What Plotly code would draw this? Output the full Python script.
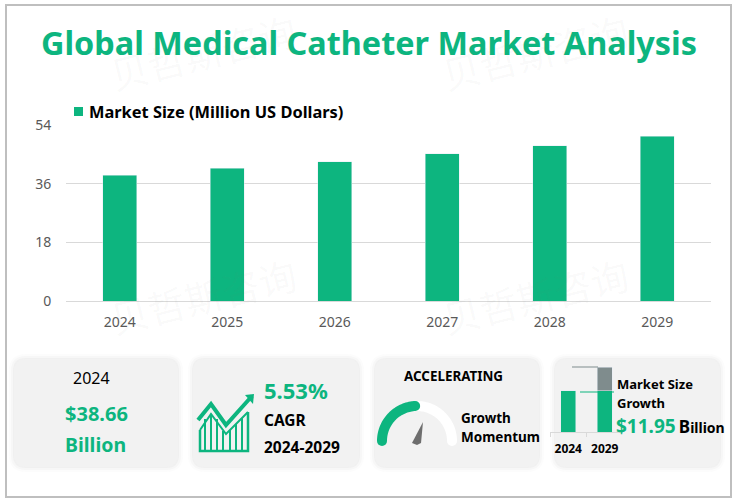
import numpy as np
import plotly.graph_objects as go

W, H = 736, 503
GREEN = "#0DB57F"
GREY = "#7F8C8D"
FONT = "Noto Sans"

# donnees du graphique principal
annees = ["2024", "2025", "2026", "2027", "2028", "2029"]
marche = [38.66, 40.8, 42.7, 45.2, 47.7, 50.61]
ticks_y = [0, 18, 36, 54]

# petit graphique en bas a droite
annees_mini = ["2024", "2029"]
base_mini = [38.66, 38.66]
hausse_mini = [0, 11.95]


def px_x(x):
    return x / W


def px_y(y):
    return 1 - y / H


def texte(x, y, s, size, color="black", bold=True, anchor="left"):
    if bold:
        s = "<b>" + s + "</b>"
    fig.add_annotation(x=px_x(x), y=px_y(y), xref="paper", yref="paper", text=s, showarrow=False,
                       xanchor=anchor, yanchor="middle", font=dict(family=FONT, size=size, color=color))


def chemin_arrondi(x0, y0, x1, y1, r):
    rx, ry = r / W, r / H
    a, b, c, d = px_x(x0), px_x(x1), px_y(y0), px_y(y1)
    return (f"M{a + rx},{c} L{b - rx},{c} Q{b},{c} {b},{c - ry} L{b},{d + ry} Q{b},{d} {b - rx},{d} "
            f"L{a + rx},{d} Q{a},{d} {a},{d + ry} L{a},{c - ry} Q{a},{c} {a + rx},{c} Z")


def carte(x0, y0, x1, y1, r=12):
    # ombre douce puis la carte
    for d, op in [(5, 0.05), (3, 0.07), (1, 0.1)]:
        fig.add_shape(type="path", path=chemin_arrondi(x0 - d, y0 - d, x1 + d, y1 + d, r + d), xref="paper", yref="paper",
                      fillcolor="#BBBBBB", opacity=op, line_width=0, layer="below")
    fig.add_shape(type="path", path=chemin_arrondi(x0, y0, x1, y1, r), xref="paper", yref="paper",
                  fillcolor="#F2F2F2", line_width=0, layer="below")


def polyligne(points, color=GREEN, width=3, ferme=False, fill=None):
    p = "M" + " L".join(f"{px_x(x)},{px_y(y)}" for x, y in points)
    if ferme:
        p += " Z"
    fig.add_shape(type="path", path=p, xref="paper", yref="paper", line=dict(color=color, width=width),
                  fillcolor=fill)


def arc(cx, cy, r, a0, a1, color):
    # arc de la jauge avec bouts ronds
    t = np.radians(np.linspace(a0, a1, 40))
    epais = 5
    ext = [(cx + (r + epais) * np.cos(v), cy - (r + epais) * np.sin(v)) for v in t]
    inter = [(cx + (r - epais) * np.cos(v), cy - (r - epais) * np.sin(v)) for v in t[::-1]]
    polyligne(ext + inter, color=color, width=0, ferme=True, fill=color)
    for v in (t[0], t[-1]):
        x, y = cx + r * np.cos(v), cy - r * np.sin(v)
        fig.add_shape(type="circle", xref="paper", yref="paper", x0=px_x(x - epais), x1=px_x(x + epais),
                      y0=px_y(y + epais), y1=px_y(y - epais), fillcolor=color, line_width=0)


fig = go.Figure()

fig.add_trace(go.Bar(x=annees, y=marche, name="Market Size (Million US Dollars)", marker_color=GREEN, width=0.315))

fig.add_trace(go.Bar(x=annees_mini, y=base_mini, marker_color=GREEN, width=0.41, xaxis="x2", yaxis="y2"))
fig.add_trace(go.Bar(x=annees_mini, y=hausse_mini, marker_color=GREY, width=0.41, xaxis="x2", yaxis="y2"))

fig.update_layout(
    width=W, height=H, autosize=False,
    margin=dict(l=0, r=0, t=0, b=0, autoexpand=False),
    paper_bgcolor="white", plot_bgcolor="rgba(0,0,0,0)",
    barmode="stack",
    font=dict(family=FONT, color="#595959"),
    showlegend=False,
    xaxis=dict(domain=[px_x(66), px_x(711)], showgrid=False, showline=True, linecolor="#D9D9D9",
               ticks="outside", ticklen=8, tickcolor="rgba(0,0,0,0)", tickfont=dict(size=14, color="#595959")),
    yaxis=dict(domain=[px_y(301), px_y(125)], range=[0, 54], tickvals=ticks_y, gridcolor="#D9D9D9",
               zeroline=False, tickfont=dict(size=14, color="#595959"), ticks="outside", ticklen=11, tickcolor="rgba(0,0,0,0)"),
    xaxis2=dict(domain=[px_x(550), px_x(623)], anchor="y2", type="category", showgrid=False, showline=True,
                linecolor="#D9D9D9", ticks="outside", tickson="boundaries", ticklen=4, tickcolor="#D9D9D9", tickangle=0,
                ticklabelstandoff=6, tickfont=dict(size=12, color="black", family=FONT, weight="bold")),
    yaxis2=dict(domain=[px_y(432), px_y(367)], anchor="x2", range=[18.2, 50.61], visible=False),
)

# cadre
fig.add_shape(type="rect", xref="paper", yref="paper", x0=px_x(6), x1=px_x(731), y0=px_y(497), y1=px_y(5),
              line=dict(color="#BFBFBF", width=2), fillcolor="rgba(0,0,0,0)", layer="below")

# filigrane
for x, y in [(203, 52), (535, 52), (203, 295), (535, 295)]:
    fig.add_annotation(x=px_x(x), y=px_y(y), xref="paper", yref="paper", text="贝哲斯咨询", showarrow=False, textangle=-14,
                       xanchor="center", yanchor="middle",
                       font=dict(family="Noto Sans CJK SC", size=38, color="rgba(120,120,120,0.04)"))

# titre
texte(369, 42, "Global Medical Catheter Market Analysis", 32.4, color=GREEN, anchor="center")

# legende
fig.add_shape(type="rect", xref="paper", yref="paper", x0=px_x(74), x1=px_x(83), y0=px_y(116), y1=px_y(107),
              fillcolor=GREEN, line_width=0)
texte(87, 111, "Market Size (Million US Dollars)", 16.4)

# cartes du bas
carte(14, 359, 178, 467)
carte(193, 359, 359, 467)
carte(375, 359, 539, 467)
carte(555, 359, 720, 467)

# carte 1
texte(91, 378, "2024", 16, bold=False, anchor="center")
texte(96, 413, "$38.66", 20, color=GREEN, anchor="center")
texte(95, 444, "Billion", 19.5, color=GREEN, anchor="center")

# carte 2 : icone
polyligne([(198, 420), (211, 404), (226, 425), (252, 396)], width=4)
polyligne([(245, 395), (254, 394), (253, 404)], width=0, ferme=True, fill=GREEN)
polyligne([(200, 430), (200, 451), (248, 451), (248, 412)], width=2.5)
for x, h in [(205, 419), (211, 414), (217, 419), (223, 431), (230, 430), (236, 424), (242, 418)]:
    polyligne([(x, h), (x, 451)], width=2)
polyligne([(200, 430), (211, 414), (226, 434), (248, 412)], width=2)
texte(262, 390, "5.53%", 22, color=GREEN)
texte(262, 420, "CAGR", 15.5)
texte(262, 447, "2024-2029", 15.5)

# carte 3 : jauge
texte(453, 376, "ACCELERATING", 13.4, anchor="center")
arc(417, 441, 35, 90, 0, "white")
arc(417, 441, 35, 180, 93, GREEN)
polyligne([(423, 422), (421, 443), (417, 445), (412, 443)], width=0, ferme=True, fill="#6E6E6E")
texte(459, 418, "Growth", 13.5)
texte(459, 437, "Momentum", 13.5)

# carte 4
polyligne([(572, 367), (598, 367)], color=GREY, width=1)
polyligne([(580, 392), (614, 392)], color=GREEN, width=1)
texte(615, 384, "Market Size", 13)
texte(615, 403, "Growth", 13)
fig.add_annotation(x=px_x(614), y=px_y(426), xref="paper", yref="paper", xanchor="left", yanchor="middle", showarrow=False,
                   text=f"<b><span style='color:{GREEN};font-size:19px'>$11.95</span> <span style='font-size:17px'>B</span><span style='font-size:14px'>illion</span></b>",
                   font=dict(family=FONT, color="black"))

fig.write_html("out.html", config={"displayModeBar": False}, post_script="document.body.style.margin='0';")
